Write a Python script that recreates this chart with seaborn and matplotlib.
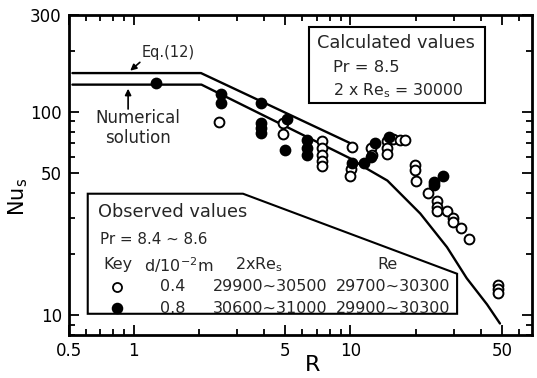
import numpy as np
import pandas as pd
import matplotlib
matplotlib.use("Agg")
import matplotlib.pyplot as plt
from matplotlib.patches import Polygon, Rectangle
from matplotlib.ticker import FixedLocator, NullFormatter, FixedFormatter
import seaborn as sns

# ---------------- data ----------------
eq12_R = [0.52, 2.04, 10.0]
eq12_Nu = [155, 155, 70]

num_R = [0.52, 2.05, 10.0, 11.47, 14.8, 21.0, 27.9, 34.4, 42.7, 49.0]
num_Nu = [136, 136, 58.9, 53.7, 45.9, 31.6, 21.6, 15.2, 11.3, 9.1]

open_R = [2.46, 4.9, 4.9, 7.4, 7.4, 7.4, 7.4, 7.4, 10.2, 10.1, 10.0, 12.5, 12.6,
          14.8, 14.8, 14.8, 15.7, 16.9, 17.9, 19.9, 19.9, 20.0, 22.7, 25.2, 25.2,
          25.2, 28.0, 29.8, 29.8, 32.5, 35.3, 48.2, 48.2, 48.2]
open_Nu = [89, 88, 78, 72, 66.5, 61.5, 57.5, 54, 67, 52.5, 48.5, 66, 61,
           72, 66.5, 62, 73.5, 73, 73, 55, 51.5, 45.5, 40, 36.6, 34.2,
           32.4, 32.7, 30.2, 28.6, 26.7, 23.6, 14.0, 13.4, 12.8]

filled_R = [1.26, 2.52, 2.52, 3.85, 3.85, 3.85, 3.85, 5.1, 5.0, 6.3, 6.3, 6.3,
            10.2, 11.5, 12.4, 13.0, 15.1, 24.2, 24.2, 26.8]
filled_Nu = [139, 123, 110, 111, 88, 83, 79, 92, 65, 73, 66, 61,
             56, 56, 60, 70, 75, 45, 43.5, 48.6]

x_ticks = [0.5, 1, 5, 10, 50]
x_ticklabels = ["0.5", "1", "5", "10", "50"]
y_ticks = [10, 50, 100, 300]
y_ticklabels = ["10", "50", "100", "300"]

# ---------------- plot ----------------
sns.set_theme(style="ticks")
plt.rcParams["font.family"] = ["DejaVu Sans"]
plt.rcParams["mathtext.default"] = "regular"

fig = plt.figure(figsize=(5.37, 3.78), dpi=100)
ax = fig.add_axes([0.128, 0.114, 0.863, 0.847])

df_eq = pd.DataFrame({"R": eq12_R, "Nu": eq12_Nu})
df_num = pd.DataFrame({"R": num_R, "Nu": num_Nu})
df_open = pd.DataFrame({"R": open_R, "Nu": open_Nu})
df_fill = pd.DataFrame({"R": filled_R, "Nu": filled_Nu})

sns.lineplot(data=df_eq, x="R", y="Nu", ax=ax, color="black", lw=1.7,
             estimator=None, sort=False, zorder=2)
sns.lineplot(data=df_num, x="R", y="Nu", ax=ax, color="black", lw=1.7,
             estimator=None, sort=False, zorder=2)
sns.scatterplot(data=df_open, x="R", y="Nu", ax=ax, s=50, facecolor="white",
                edgecolor="black", linewidth=1.4, zorder=3)
sns.scatterplot(data=df_fill, x="R", y="Nu", ax=ax, s=50, color="black",
                edgecolor="black", linewidth=1.4, zorder=4)

ax.set_xscale("log")
ax.set_yscale("log")
ax.set_xlim(0.5, 69)
ax.set_ylim(8, 300)

ax.xaxis.set_major_locator(FixedLocator(x_ticks))
ax.xaxis.set_major_formatter(FixedFormatter(x_ticklabels))
ax.xaxis.set_minor_locator(FixedLocator([0.6, 0.7, 0.8, 0.9, 2, 3, 4, 6, 7, 8, 9, 20, 30, 40, 60]))
ax.xaxis.set_minor_formatter(NullFormatter())
ax.yaxis.set_major_locator(FixedLocator(y_ticks))
ax.yaxis.set_major_formatter(FixedFormatter(y_ticklabels))
ax.yaxis.set_minor_locator(FixedLocator([8, 9, 20, 30, 40, 60, 70, 80, 90, 200]))
ax.yaxis.set_minor_formatter(NullFormatter())

ax.tick_params(which="both", direction="in", top=True, right=True, color="black",
               width=1.3, labelsize=12, labelcolor="black")
ax.tick_params(which="major", length=7, pad=5)
ax.tick_params(which="minor", length=4)
for sp in ax.spines.values():
    sp.set_linewidth(2)
    sp.set_color("black")

ax.set_xlabel("R", fontsize=16, color="black")
ax.set_ylabel("Nu$_{\\rm s}$", fontsize=15, color="black")
ax.xaxis.set_label_coords(0.527, -0.062)
ax.yaxis.set_label_coords(-0.083, 0.43)

# annotations
ax.text(0.158, 0.882, "Eq.(12)", transform=ax.transAxes, fontsize=10.5, va="center")
ax.annotate("", xy=(0.94, 156), xytext=(0.158, 0.857), textcoords="axes fraction",
            arrowprops=dict(arrowstyle="-|>", color="black", lw=1.2, mutation_scale=9))
ax.text(0.149, 0.678, "Numerical", transform=ax.transAxes, fontsize=12, ha="center", va="center")
ax.text(0.149, 0.616, "solution", transform=ax.transAxes, fontsize=12, ha="center", va="center")
ax.annotate("", xy=(0.94, 134), xytext=(0.94, 100),
            arrowprops=dict(arrowstyle="-|>", color="black", lw=1.2, mutation_scale=9))

# Calculated values box
ax.add_patch(Rectangle((0.518, 0.725), 0.380, 0.2375, transform=ax.transAxes,
                       facecolor="white", edgecolor="black", lw=1.5, zorder=5))
ax.text(0.536, 0.9125, "Calculated values", transform=ax.transAxes, fontsize=12.8, va="center", zorder=6)
ax.text(0.570, 0.834, "Pr = 8.5", transform=ax.transAxes, fontsize=11.8, va="center", zorder=6)
ax.text(0.570, 0.7625, "2 x Re$_{\\rm s}$ = 30000", transform=ax.transAxes, fontsize=11.3, va="center", zorder=6)

# Observed values box
ax.add_patch(Polygon([(0.041, 0.441), (0.376, 0.441), (0.838, 0.191), (0.838, 0.066), (0.041, 0.066)],
                     closed=True, transform=ax.transAxes, facecolor="white",
                     edgecolor="black", lw=1.5, zorder=5))
fs = 11.5
ax.text(0.063, 0.384, "Observed values", transform=ax.transAxes, fontsize=12.8, va="center", zorder=6)
ax.text(0.067, 0.297, "Pr = 8.4 ~ 8.6", transform=ax.transAxes, fontsize=10.9, va="center", zorder=6)
ax.text(0.0756, 0.219, "Key", transform=ax.transAxes, fontsize=fs, va="center", zorder=6)
ax.text(0.162, 0.219, "d/10$^{-2}$m", transform=ax.transAxes, fontsize=fs, va="center", zorder=6)
ax.text(0.3585, 0.219, "2xRe$_{\\rm s}$", transform=ax.transAxes, fontsize=fs, va="center", zorder=6)
ax.text(0.667, 0.219, "Re", transform=ax.transAxes, fontsize=fs, va="center", zorder=6)
ax.plot([0.104], [0.15], "o", transform=ax.transAxes, ms=6.5, mfc="white", mec="black", mew=1.3, zorder=6)
ax.plot([0.104], [0.084], "o", transform=ax.transAxes, ms=7, mfc="black", mec="black", mew=1.3, zorder=6)
ax.text(0.197, 0.15, "0.4", transform=ax.transAxes, fontsize=fs, va="center", zorder=6)
ax.text(0.197, 0.084, "0.8", transform=ax.transAxes, fontsize=fs, va="center", zorder=6)
ax.text(0.311, 0.15, "29900~30500", transform=ax.transAxes, fontsize=fs, va="center", zorder=6)
ax.text(0.311, 0.084, "30600~31000", transform=ax.transAxes, fontsize=fs, va="center", zorder=6)
ax.text(0.577, 0.15, "29700~30300", transform=ax.transAxes, fontsize=fs, va="center", zorder=6)
ax.text(0.577, 0.084, "29900~30300", transform=ax.transAxes, fontsize=fs, va="center", zorder=6)

fig.savefig("out.png", dpi=100)
